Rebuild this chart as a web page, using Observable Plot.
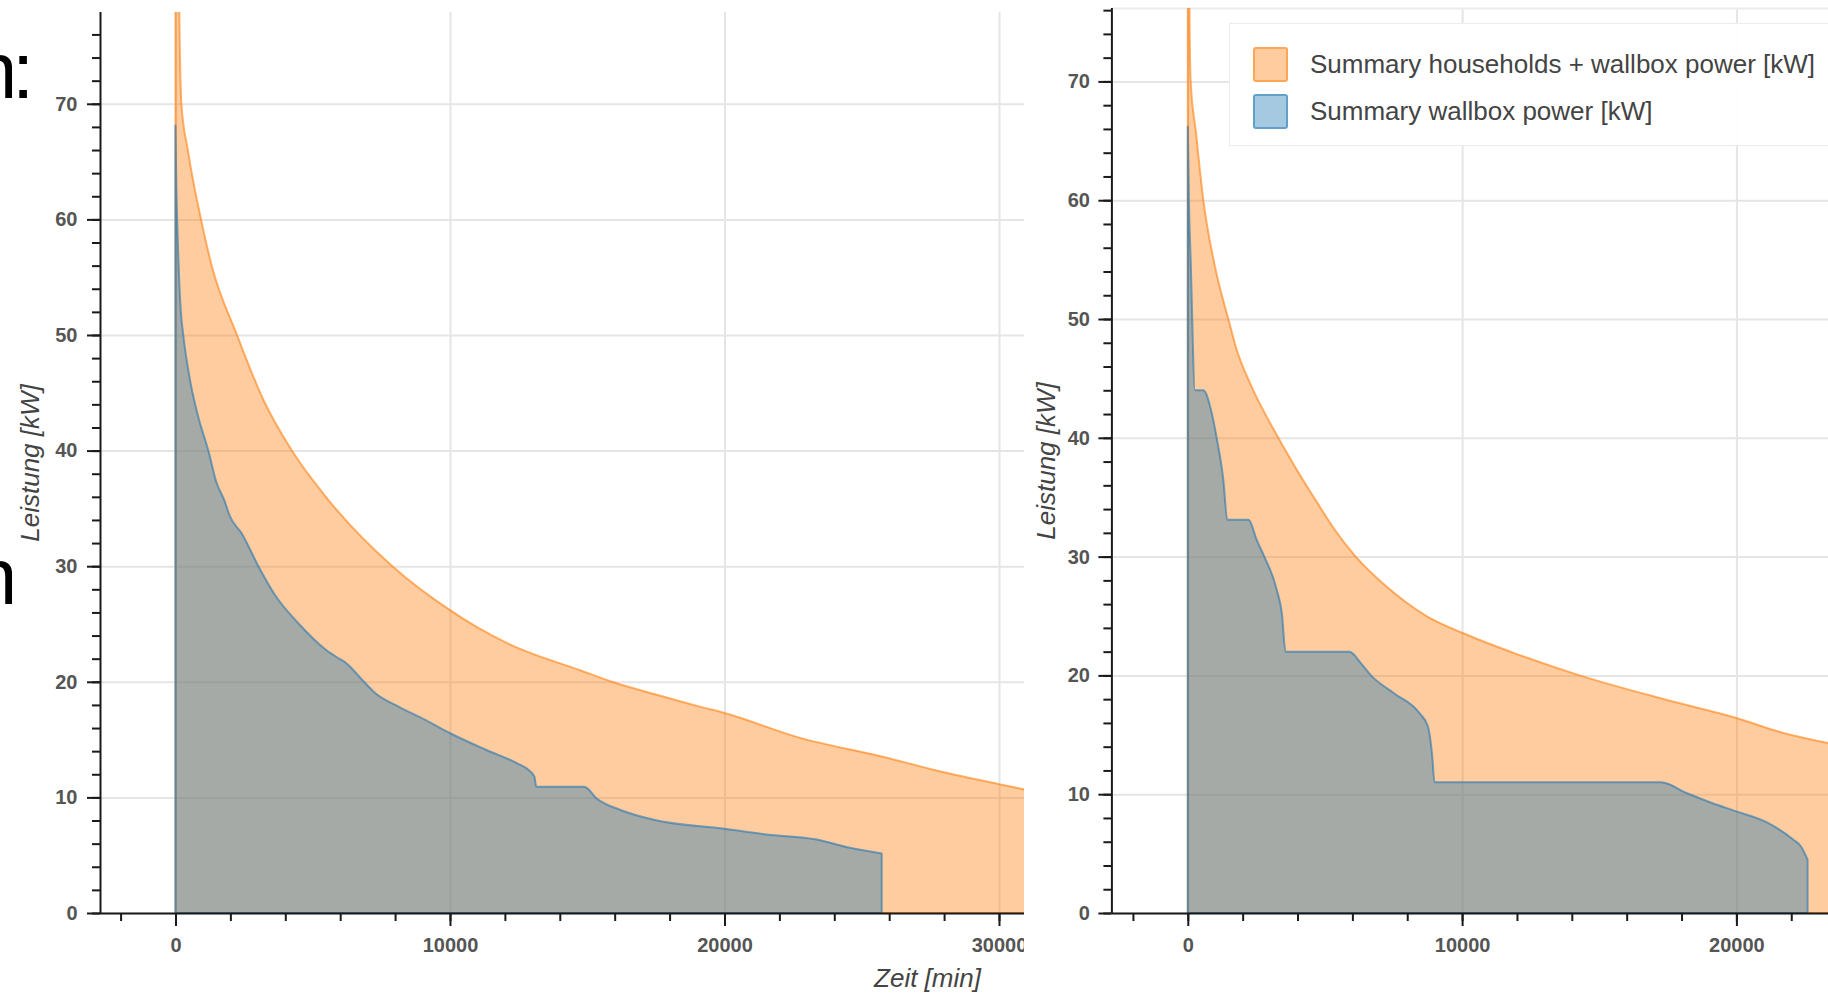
<!DOCTYPE html>
<html>
<head>
<meta charset="utf-8">
<script src="https://cdn.jsdelivr.net/npm/d3@7"></script>
<script src="https://cdn.jsdelivr.net/npm/@observablehq/plot@0.6"></script>
<style>
  html, body { margin: 0; padding: 0; background: #fff; }
  body { width: 1828px; height: 995px; overflow: hidden; position: relative; font-family: "Liberation Sans", Arial, Helvetica, sans-serif; }
  .panel { position: absolute; top: 0; height: 995px; overflow: hidden; }
  .panel svg { max-width: none !important; height: 995px !important; display: block; }
  #left { left: 0; width: 1024px; }
  #right { left: 1028px; width: 800px; }
  .slide { position: absolute; font-family: "Liberation Sans", Arial, sans-serif; font-size: 80px; line-height: 1; color: #000; white-space: nowrap; overflow: hidden; }
  g[aria-label="x-axis label"] text, g[aria-label="y-axis label"] text {
    font-style: italic; font-weight: normal; font-size: 26px; fill: #444;
  }
  #legend { position: absolute; left: 201px; top: 23px; width: 660px; height: 123px;
    background: rgba(255,255,255,0.95); border: 1px solid #ececec; box-sizing: border-box; }
  .item { position: absolute; left: 23px; height: 35px; display: flex; align-items: center; }
  .sw { width: 31px; height: 31px; border: 2px solid; border-radius: 3px; margin-right: 22px; }
  .lab { font-size: 26px; color: #444; white-space: nowrap; }
</style>
</head>
<body>
<div class="slide" style="left:0; top:31px; width:12px;"><span style="margin-left:-27px">n</span></div>
<div class="slide" style="left:12px; top:31px;">:</div>
<div class="slide" style="left:0; top:537px; width:12px;"><span style="margin-left:-27px">n</span></div>
<div id="left" class="panel"></div>
<div id="right" class="panel"></div>
<script>
// ---------- data ----------
const seriesNames = ["Summary households + wallbox power [kW]", "Summary wallbox power [kW]"];
const xAxisLabel = "Zeit [min]";
const yAxisLabel = "Leistung [kW]";

// left chart
const leftTotalTime  = [0, 140, 215, 450, 930, 1320, 2240, 3200, 4240, 5580, 7900, 10000, 11000, 12300, 14740, 15900, 17500, 19100, 20000, 22750, 25800, 27600, 30000, 31500];
const leftTotalPower = [130, 78, 70, 66, 60, 56, 50, 44.4, 40, 35.7, 30, 26.2, 24.7, 23.1, 21.0, 20.0, 18.9, 17.85, 17.3, 15.15, 13.5, 12.4, 11.15, 10.4];
const leftWallboxTime  = [0, 30, 76, 190, 284, 553, 832, 1196, 1500, 1780, 1985, 2410, 3020, 3600, 4500, 5490, 5964, 6173, 6867, 7286, 8124, 9100, 10007, 11330, 12444, 12864, 13075, 13144, 14885, 15373, 16211, 17464, 20000, 21537, 23358, 24572, 25726];
const leftWallboxPower = [68.1, 63, 58.8, 52.2, 50, 45.8, 42.9, 40, 37.2, 35.7, 34.3, 32.85, 30, 27.6, 25.0, 22.75, 22.0, 21.7, 20, 19.0, 17.85, 16.7, 15.55, 14.1, 12.95, 12.37, 11.8, 10.93, 10.93, 9.85, 8.91, 8.04, 7.28, 6.79, 6.36, 5.64, 5.15];

// right chart
const rightTotalTime  = [0, 60, 105, 300, 566, 992, 1477, 1783, 2268, 3300, 4000, 4729, 5377, 6121, 7233, 8717, 10018, 11874, 14283, 17437, 20000, 21706, 23339, 24500];
const rightTotalPower = [130, 76.5, 70, 65.66, 60, 54.4, 50, 47.4, 44.6, 40, 37.2, 34.5, 32.2, 30, 27.5, 24.97, 23.57, 21.9, 20, 17.95, 16.41, 15.15, 14.3, 13.7];
const rightWallboxTime  = [0, 40, 105, 263, 566, 871, 1053, 1296, 1440, 2216, 2512, 2790, 3245, 3431, 3562, 5899, 6307, 6679, 7514, 8440, 8755, 8901, 8996, 17251, 18181, 19107, 20000, 21148, 22078, 22355, 22596];
const rightWallboxPower = [66.2, 60, 55, 44.0, 44.0, 42.1, 40, 36.45, 33.1, 33.1, 31.4, 30, 27.2, 25.2, 22.0, 22.0, 21.04, 20, 18.5, 16.84, 15.7, 13.47, 11.0, 11.0, 10.1, 9.26, 8.55, 7.58, 6.17, 5.6, 4.49];

// ticks
const xMajorTicks = [0, 10000, 20000, 30000, 40000, 50000];
const yMajorTicks = [0, 10, 20, 30, 40, 50, 60, 70];

// ---------- styling ----------
const FONT = '"Liberation Sans", Arial, Helvetica, sans-serif';
const ORANGE = "#ff7f0e";
const BLUE = "#1f77b4";
const AXIS = "#1a1a1a";

function drawChart(o) {
  const total = o.totalTime.map((t, i) => ({t, p: o.totalPower[i]}));
  const wallbox = o.wallboxTime.map((t, i) => ({t, p: o.wallboxPower[i]}));
  const xMinor = d3.range(-2000, o.xDomain[1], 2000);
  const yMinor = d3.range(0, o.yDomain[1], 2);
  const tk = {stroke: AXIS, strokeWidth: 2, strokeOpacity: 1};
  return Plot.plot({
    width: o.width, height: 995,
    marginLeft: o.marginLeft, marginRight: 6, marginTop: o.marginTop, marginBottom: 82,
    x: {domain: o.xDomain},
    y: {domain: o.yDomain},
    style: {fontFamily: FONT, background: "transparent", overflow: "visible", maxWidth: "none"},
    marks: [
      Plot.gridX({ticks: xMajorTicks, stroke: "#e5e5e5", strokeOpacity: 1, strokeWidth: 2}),
      Plot.gridY({ticks: yMajorTicks, stroke: "#e5e5e5", strokeOpacity: 1, strokeWidth: 2}),
      o.topLine ? Plot.ruleY([o.yDomain[1]], {stroke: "#ececec", strokeWidth: 2}) : null,
      Plot.areaY(total, {x: "t", y: "p", curve: "monotone-x", fill: ORANGE, fillOpacity: 0.4, stroke: ORANGE, strokeOpacity: 0.6, strokeWidth: 2, clip: true}),
      Plot.areaY(wallbox, {x: "t", y: "p", curve: "monotone-x", fill: BLUE, fillOpacity: 0.4, stroke: BLUE, strokeOpacity: 0.6, strokeWidth: 2, clip: true}),
      Plot.ruleY([0], {stroke: AXIS, strokeWidth: 2}),
      Plot.ruleX([o.xDomain[0]], {stroke: AXIS, strokeWidth: 2}),
      Plot.axisX({ticks: xMinor, tickSize: 8, fill: "none", ...tk}),
      Plot.axisX({ticks: xMajorTicks, tickSize: 13, tickPadding: 11, ...tk, fill: "#555",
        fontSize: 20, fontWeight: "bold", tickFormat: d => String(d),
        label: xAxisLabel, labelAnchor: "center", labelOffset: 73, labelArrow: "none"}),
      Plot.axisY({ticks: yMinor, tickSize: 8, fill: "none", ...tk}),
      Plot.axisY({ticks: yMajorTicks, tickSize: 13, tickPadding: o.yPad, ...tk, fill: "#555",
        fontSize: 20, fontWeight: "bold", tickFormat: d => String(d),
        label: yAxisLabel, labelAnchor: "center", labelOffset: o.yLabelOffset, labelArrow: "none"})
    ]
  });
}

document.getElementById("left").append(drawChart({
  totalTime: leftTotalTime, totalPower: leftTotalPower,
  wallboxTime: leftWallboxTime, wallboxPower: leftWallboxPower,
  width: 1760, marginLeft: 100, marginTop: 12,
  xDomain: [-2750, 57505], yDomain: [0, 77.94], yPad: 10, yLabelOffset: 80, topLine: false
}));

document.getElementById("right").append(drawChart({
  totalTime: rightTotalTime, totalPower: rightTotalPower,
  wallboxTime: rightWallboxTime, wallboxPower: rightWallboxPower,
  width: 1660, marginLeft: 83.4, marginTop: 8,
  xDomain: [-2785, 54473], yDomain: [0, 76.18], yPad: 9, yLabelOffset: 75, topLine: true
}));

// legend
const legend = document.createElement("div");
legend.id = "legend";
const colors = [ORANGE, BLUE];
seriesNames.forEach((name, i) => {
  const item = document.createElement("div");
  item.className = "item";
  item.style.top = (23 + i * 47) + "px";
  const sw = document.createElement("div");
  sw.className = "sw";
  const c = d3.color(colors[i]);
  sw.style.background = `rgba(${c.r},${c.g},${c.b},0.4)`;
  sw.style.borderColor = `rgba(${c.r},${c.g},${c.b},0.5)`;
  const lab = document.createElement("span");
  lab.className = "lab";
  lab.textContent = name;
  item.append(sw, lab);
  legend.append(item);
});
document.getElementById("right").append(legend);
</script>
</body>
</html>
